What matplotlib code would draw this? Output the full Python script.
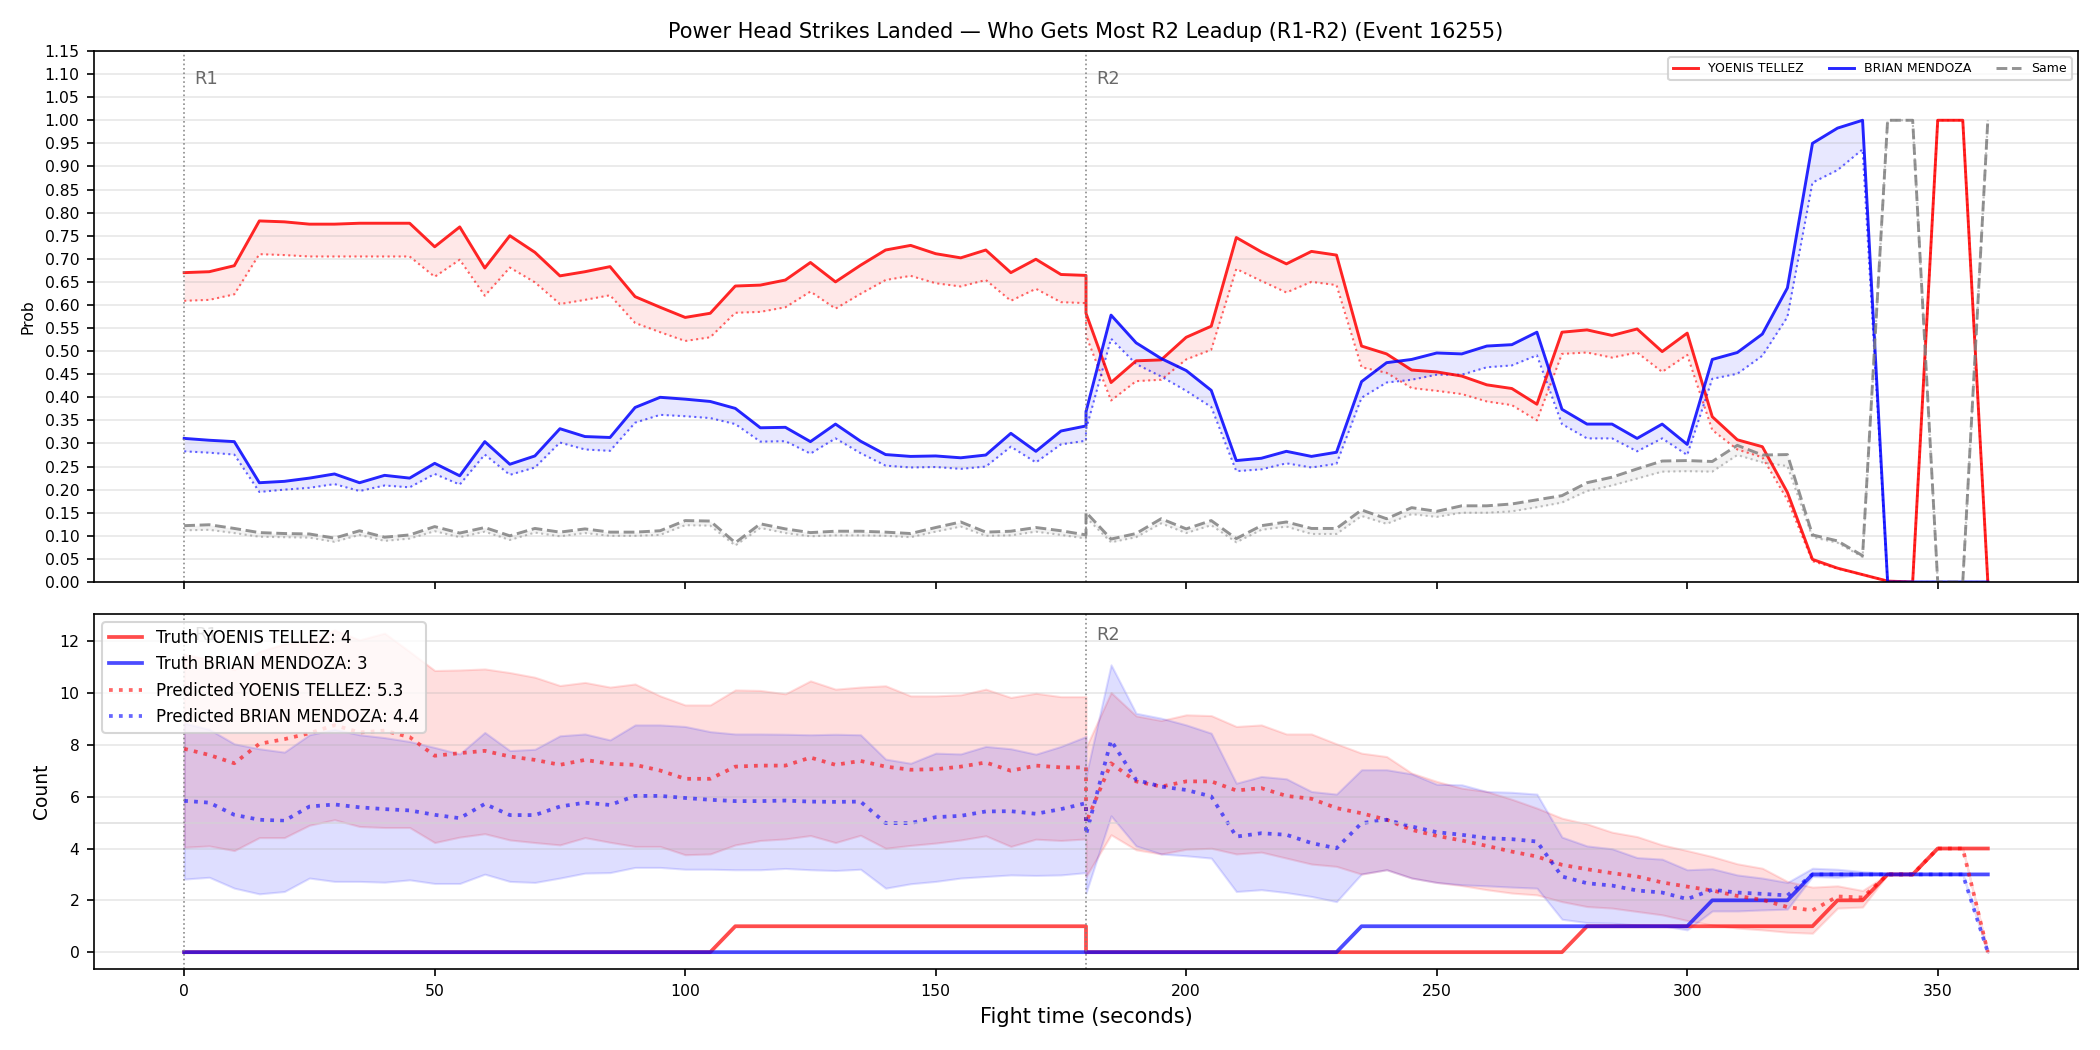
import matplotlib
matplotlib.use("Agg")
import matplotlib.pyplot as plt
import matplotlib.transforms as mtransforms
from matplotlib.ticker import MultipleLocator, FormatStrFormatter

# ---------------- data ----------------
TIMES = [0, 5, 10, 15, 20, 25, 30, 35, 40, 45, 50, 55, 60, 65, 70, 75, 80, 85, 90, 95,
         100, 105, 110, 115, 120, 125, 130, 135, 140, 145, 150, 155, 160, 165, 170, 175, 180,
         180, 185, 190, 195, 200, 205, 210, 215, 220, 225, 230, 235, 240, 245, 250, 255, 260,
         265, 270, 275, 280, 285, 290, 295, 300, 305, 310, 315, 320, 325, 330, 335, 340, 345,
         350, 355, 360]

ROUND_STARTS = [0, 180]
ROUND_LABELS = ["R1", "R2"]

RED_NAME = "YOENIS TELLEZ"
BLUE_NAME = "BRIAN MENDOZA"

# top panel: probabilities (calibrated line and raw dotted line)
P_RED = [0.670, 0.672, 0.685, 0.782, 0.780, 0.775, 0.775, 0.777, 0.777, 0.777, 0.726, 0.769,
         0.680, 0.750, 0.714, 0.663, 0.672, 0.683, 0.618, 0.595, 0.573, 0.582, 0.641, 0.643,
         0.654, 0.692, 0.650, 0.686, 0.719, 0.729, 0.711, 0.702, 0.719, 0.670, 0.699, 0.666, 0.664,
         0.582, 0.432, 0.479, 0.481, 0.530, 0.554, 0.746, 0.715, 0.689, 0.716, 0.708, 0.511,
         0.494, 0.459, 0.455, 0.446, 0.427, 0.419, 0.385, 0.541, 0.546, 0.534, 0.548, 0.499,
         0.539, 0.358, 0.308, 0.293, 0.194, 0.049, 0.030, 0.016, 0.002, 0.0, 1.0, 1.0, 0.0]
P_RED_RAW = [0.609, 0.611, 0.623, 0.710, 0.708, 0.705, 0.705, 0.705, 0.705, 0.705, 0.661, 0.698,
             0.620, 0.681, 0.649, 0.602, 0.611, 0.621, 0.561, 0.541, 0.522, 0.530, 0.583, 0.585,
             0.595, 0.629, 0.592, 0.624, 0.654, 0.663, 0.647, 0.640, 0.654, 0.609, 0.635, 0.606, 0.604,
             0.534, 0.393, 0.435, 0.438, 0.482, 0.503, 0.678, 0.652, 0.627, 0.650, 0.643, 0.465,
             0.453, 0.420, 0.414, 0.407, 0.391, 0.383, 0.350, 0.494, 0.497, 0.486, 0.497, 0.455,
             0.492, 0.329, 0.287, 0.270, 0.178, 0.045, 0.029, 0.016, 0.002, 0.0, 1.0, 1.0, 0.0]
P_BLUE = [0.311, 0.307, 0.304, 0.215, 0.218, 0.225, 0.234, 0.215, 0.231, 0.225, 0.257, 0.230,
          0.304, 0.255, 0.273, 0.332, 0.315, 0.313, 0.378, 0.400, 0.396, 0.391, 0.376, 0.334,
          0.335, 0.304, 0.342, 0.305, 0.276, 0.272, 0.273, 0.269, 0.275, 0.322, 0.283, 0.327, 0.338,
          0.369, 0.578, 0.518, 0.484, 0.458, 0.415, 0.263, 0.268, 0.283, 0.272, 0.281, 0.434,
          0.475, 0.482, 0.496, 0.494, 0.511, 0.514, 0.541, 0.374, 0.342, 0.342, 0.311, 0.342,
          0.298, 0.482, 0.497, 0.537, 0.637, 0.950, 0.983, 1.0, 0.0, 0.0, 0.0, 0.0, 0.0]
P_BLUE_RAW = [0.283, 0.280, 0.276, 0.195, 0.200, 0.204, 0.212, 0.197, 0.209, 0.205, 0.234, 0.211,
              0.276, 0.232, 0.248, 0.302, 0.287, 0.284, 0.345, 0.362, 0.359, 0.355, 0.342, 0.304,
              0.305, 0.278, 0.311, 0.279, 0.252, 0.248, 0.249, 0.245, 0.250, 0.293, 0.259, 0.298, 0.306,
              0.330, 0.527, 0.472, 0.445, 0.414, 0.379, 0.240, 0.244, 0.257, 0.248, 0.256, 0.399,
              0.432, 0.438, 0.449, 0.449, 0.465, 0.469, 0.491, 0.342, 0.311, 0.311, 0.283, 0.311,
              0.275, 0.440, 0.451, 0.490, 0.574, 0.865, 0.892, 0.937, 0.0, 0.0, 0.0, 0.0, 0.0]
P_SAME = [0.122, 0.124, 0.116, 0.107, 0.105, 0.104, 0.095, 0.111, 0.097, 0.102, 0.120, 0.106,
          0.118, 0.100, 0.116, 0.108, 0.115, 0.108, 0.108, 0.111, 0.133, 0.132, 0.085, 0.126,
          0.115, 0.107, 0.110, 0.110, 0.108, 0.105, 0.118, 0.130, 0.108, 0.110, 0.118, 0.111, 0.102,
          0.151, 0.093, 0.105, 0.137, 0.115, 0.133, 0.094, 0.122, 0.130, 0.116, 0.116, 0.156,
          0.137, 0.161, 0.153, 0.165, 0.165, 0.169, 0.178, 0.187, 0.215, 0.227, 0.245, 0.262,
          0.263, 0.261, 0.296, 0.275, 0.276, 0.102, 0.089, 0.057, 1.0, 1.0, 0.0, 0.0, 1.0]
P_SAME_RAW = [0.112, 0.113, 0.106, 0.098, 0.097, 0.096, 0.087, 0.102, 0.089, 0.094, 0.110, 0.097,
              0.109, 0.091, 0.107, 0.099, 0.106, 0.100, 0.100, 0.102, 0.123, 0.122, 0.079, 0.117,
              0.106, 0.099, 0.101, 0.101, 0.100, 0.097, 0.109, 0.120, 0.100, 0.101, 0.109, 0.102, 0.094,
              0.140, 0.086, 0.097, 0.127, 0.106, 0.123, 0.086, 0.113, 0.120, 0.104, 0.104, 0.143,
              0.126, 0.147, 0.141, 0.150, 0.150, 0.153, 0.162, 0.172, 0.197, 0.209, 0.224, 0.239,
              0.240, 0.239, 0.275, 0.259, 0.251, 0.097, 0.085, 0.054, 1.0, 1.0, 0.0, 0.0, 1.0]

# bottom panel: counts
TRUTH_RED = [0, 0, 0, 0, 0, 0, 0, 0, 0, 0, 0, 0, 0, 0, 0, 0, 0, 0, 0, 0, 0, 0, 1, 1, 1, 1, 1, 1,
             1, 1, 1, 1, 1, 1, 1, 1, 1,
             0, 0, 0, 0, 0, 0, 0, 0, 0, 0, 0, 0, 0, 0, 0, 0, 0, 0, 0, 0, 1, 1, 1, 1, 1, 1, 1, 1,
             1, 1, 2, 2, 3, 3, 4, 4, 4]
TRUTH_BLUE = [0, 0, 0, 0, 0, 0, 0, 0, 0, 0, 0, 0, 0, 0, 0, 0, 0, 0, 0, 0, 0, 0, 0, 0, 0, 0, 0, 0,
              0, 0, 0, 0, 0, 0, 0, 0, 0,
              0, 0, 0, 0, 0, 0, 0, 0, 0, 0, 0, 1, 1, 1, 1, 1, 1, 1, 1, 1, 1, 1, 1, 1, 1, 2, 2, 2,
              2, 3, 3, 3, 3, 3, 3, 3, 3]
PRED_RED = [7.85, 7.61, 7.29, 8.04, 8.22, 8.45, 8.76, 8.48, 8.55, 8.30, 7.58, 7.68, 7.77, 7.55,
            7.42, 7.23, 7.42, 7.27, 7.23, 7.01, 6.69, 6.69, 7.16, 7.20, 7.20, 7.51, 7.23, 7.38,
            7.16, 7.04, 7.06, 7.16, 7.32, 7.00, 7.20, 7.13, 7.13,
            5.00, 7.29, 6.59, 6.39, 6.59, 6.59, 6.24, 6.33, 6.03, 5.92, 5.56, 5.36, 5.11, 4.72,
            4.49, 4.31, 4.10, 3.88, 3.69, 3.37, 3.20, 3.05, 2.92, 2.69, 2.53, 2.38, 2.17, 2.02,
            1.74, 1.61, 2.15, 2.11, 3.0, 3.0, 4.0, 4.0, 0.0]
PRED_BLUE = [5.84, 5.77, 5.30, 5.11, 5.07, 5.62, 5.70, 5.59, 5.52, 5.47, 5.30, 5.17, 5.72, 5.29,
             5.29, 5.62, 5.77, 5.68, 6.03, 6.03, 5.95, 5.88, 5.83, 5.83, 5.85, 5.81, 5.80, 5.81,
             4.98, 4.98, 5.21, 5.26, 5.43, 5.44, 5.34, 5.52, 5.75,
             4.53, 8.17, 6.65, 6.39, 6.26, 6.01, 4.46, 4.59, 4.53, 4.21, 4.01, 4.98, 5.11, 4.85,
             4.63, 4.53, 4.40, 4.36, 4.27, 2.92, 2.66, 2.57, 2.38, 2.30, 2.05, 2.41, 2.30, 2.25,
             2.19, 3.0, 3.0, 3.0, 3.0, 3.0, 3.0, 3.0, 0.0]
RED_HI = [11.5, 11.3, 10.9, 11.6, 11.9, 12.0, 12.43, 12.05, 12.31, 11.60, 10.87, 10.89, 10.93,
          10.79, 10.61, 10.29, 10.41, 10.23, 10.35, 9.89, 9.54, 9.54, 10.12, 10.10, 9.97, 10.47,
          10.15, 10.23, 10.28, 9.89, 9.89, 9.93, 10.15, 9.83, 9.99, 9.86, 9.86,
          7.9, 10.02, 9.12, 8.94, 9.16, 9.13, 8.71, 8.77, 8.42, 8.42, 8.04, 7.68, 7.55, 6.91,
          6.59, 6.33, 6.20, 5.90, 5.56, 5.17, 4.95, 4.63, 4.46, 4.14, 3.92, 3.69, 3.41, 3.24,
          2.73, 2.51, 2.56, 2.38, 3.0, 3.0, 4.0, 4.0, 0.0]
RED_LO = [4.05, 4.10, 3.92, 4.42, 4.42, 4.90, 5.11, 4.85, 4.81, 4.81, 4.23, 4.44, 4.57, 4.33,
          4.23, 4.14, 4.42, 4.24, 4.08, 4.08, 3.76, 3.79, 4.14, 4.31, 4.37, 4.50, 4.23, 4.51,
          4.01, 4.12, 4.21, 4.33, 4.49, 4.08, 4.36, 4.31, 4.37,
          2.92, 4.53, 3.95, 3.79, 3.97, 4.01, 3.79, 3.86, 3.63, 3.40, 3.31, 3.01, 3.18, 2.86,
          2.69, 2.57, 2.41, 2.28, 2.21, 1.95, 1.76, 1.70, 1.57, 1.44, 1.22, 1.05, 0.93, 0.86,
          0.77, 0.73, 1.70, 1.74, 3.0, 3.0, 4.0, 4.0, 0.0]
BLUE_HI = [8.84, 8.60, 8.04, 7.85, 7.72, 8.39, 8.60, 8.39, 8.28, 8.13, 7.90, 7.65, 8.48, 7.78,
           7.83, 8.35, 8.42, 8.19, 8.77, 8.77, 8.71, 8.51, 8.42, 8.42, 8.41, 8.39, 8.41, 8.39,
           7.45, 7.29, 7.68, 7.65, 7.94, 7.85, 7.64, 7.94, 8.32,
           6.8, 11.09, 9.22, 9.03, 8.77, 8.45, 6.52, 6.78, 6.69, 6.20, 6.10, 7.04, 7.04, 6.88,
           6.48, 6.46, 6.20, 6.17, 6.10, 4.44, 4.10, 3.99, 3.65, 3.59, 3.18, 3.22, 2.98, 2.86,
           2.69, 3.24, 3.20, 3.11, 3.05, 3.0, 3.0, 3.0, 0.0]
BLUE_LO = [2.82, 2.89, 2.47, 2.25, 2.34, 2.86, 2.73, 2.73, 2.70, 2.79, 2.65, 2.65, 3.01, 2.73,
           2.69, 2.86, 3.05, 3.07, 3.27, 3.27, 3.20, 3.20, 3.18, 3.18, 3.23, 3.18, 3.15, 3.20,
           2.47, 2.64, 2.73, 2.86, 2.92, 2.98, 2.96, 2.98, 3.07,
           2.28, 5.26, 4.10, 3.79, 3.72, 3.63, 2.34, 2.41, 2.30, 2.15, 1.95, 3.02, 3.18, 2.86,
           2.69, 2.60, 2.56, 2.51, 2.47, 1.27, 1.14, 1.12, 1.05, 1.02, 0.86, 1.59, 1.59, 1.63,
           1.66, 2.92, 2.89, 2.98, 3.0, 3.0, 3.0, 3.0, 0.0]

FINAL_TRUTH_RED = 4
FINAL_TRUTH_BLUE = 3
FINAL_PRED_RED = 5.3
FINAL_PRED_BLUE = 4.4

TITLE = "Power Head Strikes Landed \u2014 Who Gets Most R2 Leadup (R1-R2) (Event 16255)"

# ---------------- figure ----------------
W, H = 2100, 1050
fig = plt.figure(figsize=(14, 7), dpi=150)
L = 94 / W
AW = (2078 - 94) / W
ax1 = fig.add_axes([L, 1 - 582 / H, AW, (582 - 51) / H])
ax2 = fig.add_axes([L, 1 - 969 / H, AW, (969 - 614) / H], sharex=ax1)

# top panel
for p, raw, col in [(P_RED, P_RED_RAW, "red"), (P_BLUE, P_BLUE_RAW, "blue")]:
    ax1.fill_between(TIMES, raw, p, color=col, alpha=0.09, linewidth=0)
    ax1.plot(TIMES, raw, color=col, ls=":", lw=1.0, alpha=0.6)
ax1.fill_between(TIMES, P_SAME_RAW, P_SAME, color="gray", alpha=0.09, linewidth=0)
ax1.plot(TIMES, P_SAME_RAW, color="gray", ls=":", lw=1.0, alpha=0.5)
ax1.plot(TIMES, P_RED, color="red", lw=1.4, alpha=0.85, label=RED_NAME)
ax1.plot(TIMES, P_BLUE, color="blue", lw=1.4, alpha=0.85, label=BLUE_NAME)
ax1.plot(TIMES, P_SAME, color="gray", lw=1.4, ls="--", alpha=0.85, label="Same")

ax1.set_ylim(0, 1.15)
ax1.yaxis.set_major_locator(MultipleLocator(0.05))
ax1.yaxis.set_major_formatter(FormatStrFormatter("%.2f"))
ax1.set_ylabel("Prob", fontsize=7.5)
ax1.tick_params(axis="y", labelsize=7.5)
ax1.tick_params(axis="x", labelbottom=False)
ax1.grid(axis="y", alpha=0.3)
ax1.legend(loc="upper right", ncol=3, fontsize=6, framealpha=0.8)
ax1.set_title(TITLE, fontsize=10)

trans1 = mtransforms.blended_transform_factory(ax1.transData, ax1.transAxes)
for x, lab in zip(ROUND_STARTS, ROUND_LABELS):
    ax1.axvline(x, color="gray", ls=":", lw=0.8, alpha=0.9)
    ax1.text(x + 2, 0.965, lab, transform=trans1, va="top", ha="left", fontsize=8.5, color="dimgray")

# bottom panel
ax2.fill_between(TIMES, RED_LO, RED_HI, color="red", alpha=0.13)
ax2.fill_between(TIMES, BLUE_LO, BLUE_HI, color="blue", alpha=0.13)
ax2.plot(TIMES, TRUTH_RED, color="red", lw=1.8, alpha=0.7,
         label=f"Truth {RED_NAME}: {FINAL_TRUTH_RED}")
ax2.plot(TIMES, TRUTH_BLUE, color="blue", lw=1.8, alpha=0.7,
         label=f"Truth {BLUE_NAME}: {FINAL_TRUTH_BLUE}")
ax2.plot(TIMES, PRED_RED, color="red", lw=1.8, ls=":", alpha=0.6,
         label=f"Predicted {RED_NAME}: {FINAL_PRED_RED}")
ax2.plot(TIMES, PRED_BLUE, color="blue", lw=1.8, ls=":", alpha=0.6,
         label=f"Predicted {BLUE_NAME}: {FINAL_PRED_BLUE}")
ax2.axhline(5, color="lightgray", lw=0.8, alpha=0.7)

trans2 = mtransforms.blended_transform_factory(ax2.transData, ax2.transAxes)
for x, lab in zip(ROUND_STARTS, ROUND_LABELS):
    ax2.axvline(x, color="gray", ls=":", lw=0.8, alpha=0.9)
    ax2.text(x + 2, 0.965, lab, transform=trans2, va="top", ha="left", fontsize=8.5, color="dimgray")

ax2.set_ylim(-0.65, 13.05)
ax2.set_xlim(-18, 378)
ax2.yaxis.set_major_locator(MultipleLocator(2))
ax2.tick_params(labelsize=7.5)
ax2.grid(axis="y", alpha=0.3)
ax2.set_ylabel("Count", fontsize=9)
ax2.set_xlabel("Fight time (seconds)", fontsize=10)
ax2.legend(loc="upper left", fontsize=8, framealpha=0.8)

fig.savefig("out.png", dpi=150)
